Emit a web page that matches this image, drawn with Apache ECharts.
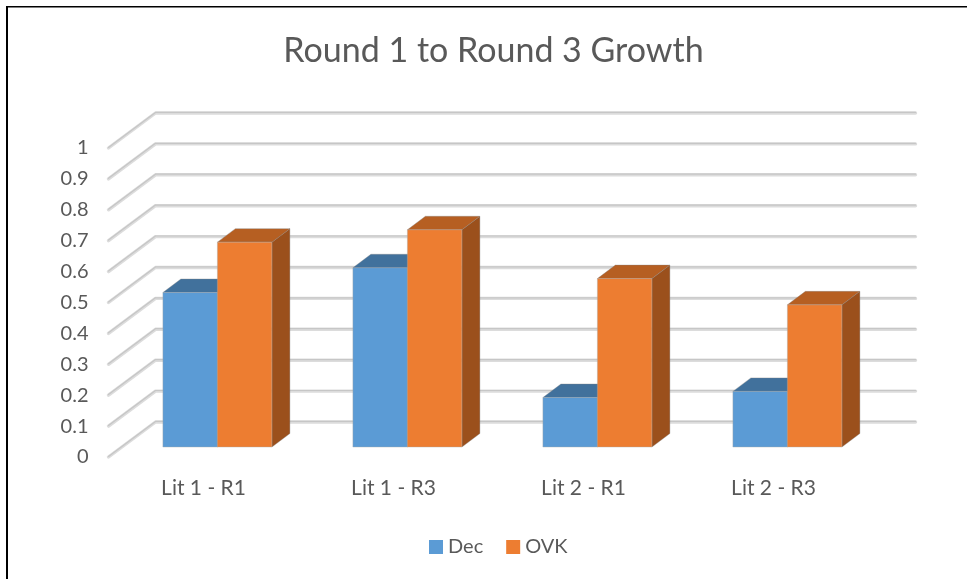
<!DOCTYPE html>
<html>
<head>
<meta charset="utf-8">
<style>html,body{margin:0;padding:0;background:#fff}#c{width:967px;height:579px}</style>
<script src="https://cdn.jsdelivr.net/npm/echarts@6/dist/echarts.min.js"></script>
</head>
<body>
<div id="c"></div>
<script>
const categories = ['Lit 1 - R1', 'Lit 1 - R3', 'Lit 2 - R1', 'Lit 2 - R3'];
const dec = [0.50, 0.58, 0.16, 0.18];
const ovk = [0.663, 0.703, 0.545, 0.46];
const yTicks = [0, 0.1, 0.2, 0.3, 0.4, 0.5, 0.6, 0.7, 0.8, 0.9, 1];

const DEPTH_X = 47, DEPTH_Y = 35;
const BAR_W = 54.5, BAR_DX = 18, BAR_DY = 13.5;
const FRONT_X = 13.9, FRONT_Y = 10;

function gridRender(params, api) {
  const v = api.value(0);
  const p = api.coord([0, v]);
  const band = api.size([1, 0])[0];
  const x0 = p[0] - band / 2;
  const pts = [[x0, p[1]], [x0 + DEPTH_X, p[1] - DEPTH_Y], [x0 + DEPTH_X + band * categories.length, p[1] - DEPTH_Y]];
  return {
    type: 'group',
    children: [
      { type: 'polyline', shape: { points: pts }, style: { fill: 'none', stroke: '#dcdcdc', lineWidth: 3.4, lineCap: 'round', lineJoin: 'round' } },
      { type: 'polyline', shape: { points: pts.map(q => [q[0], q[1] - 0.6]) }, style: { fill: 'none', stroke: '#c6c6c6', lineWidth: 1.2, lineCap: 'round', lineJoin: 'round' } }
    ]
  };
}

function barRender(slot, front, top, side) {
  return function (params, api) {
    const p = api.coord([api.value(0), api.value(1)]);
    const base = api.coord([api.value(0), 0]);
    const xL = p[0] + FRONT_X + slot * BAR_W;
    const xR = xL + BAR_W;
    const yT = p[1] - FRONT_Y;
    const yB = base[1] - FRONT_Y;
    const edge = { stroke: 'rgba(130,130,130,0.45)', lineWidth: 0.8 };
    return {
      type: 'group',
      children: [
        { type: 'polygon', shape: { points: [[xR, yB], [xR + BAR_DX, yB - BAR_DY], [xR + BAR_DX, yT - BAR_DY], [xR, yT]] }, style: Object.assign({ fill: side }, edge) },
        { type: 'polygon', shape: { points: [[xL, yT], [xL + BAR_DX, yT - BAR_DY], [xR + BAR_DX, yT - BAR_DY], [xR, yT]] }, style: Object.assign({ fill: top }, edge) },
        { type: 'rect', shape: { x: xL, y: yT, width: BAR_W, height: yB - yT }, style: { fill: front, stroke: 'rgba(170,170,170,0.5)', lineWidth: 0.8 } }
      ]
    };
  };
}

const chart = echarts.init(document.getElementById('c'), null, { renderer: 'canvas' });
chart.setOption({
  animation: false,
  backgroundColor: '#ffffff',
  textStyle: { fontFamily: 'Lato' },
  title: {
    text: 'Round 1 to Round 3 Growth',
    left: 488.5, top: 29, textAlign: 'center',
    textStyle: { fontFamily: 'Lato', fontSize: 34, fontWeight: 'normal', color: '#595959' }
  },
  legend: {
    left: 424, top: 532, itemWidth: 14, itemHeight: 14, itemGap: 23,
    icon: 'rect',
    textStyle: { fontFamily: 'Lato', fontSize: 20, color: '#595959' },
    data: ['Dec', 'OVK']
  },
  grid: { left: 108.5, top: 148, width: 760, height: 309 },
  xAxis: {
    type: 'category', data: categories,
    axisLine: { show: false }, axisTick: { show: false }, splitLine: { show: false },
    axisLabel: { margin: 21, fontFamily: 'Lato', fontSize: 21, color: '#595959' }
  },
  yAxis: {
    type: 'value', min: 0, max: 1, interval: 0.1,
    axisLine: { show: false }, axisTick: { show: false }, splitLine: { show: false },
    axisLabel: { margin: 20, fontFamily: 'Lato', fontSize: 20, color: '#595959' }
  },
  graphic: [
    { type: 'rect', shape: { x: 6, y: 6, width: 961, height: 1.5 }, style: { fill: '#000' } },
    { type: 'rect', shape: { x: 6, y: 6, width: 2, height: 573 }, style: { fill: '#000' } }
  ],
  series: [
    { type: 'custom', name: 'grid', z: 1, silent: true, renderItem: gridRender, data: yTicks.map(v => [v]), encode: { y: 0 }, legendHoverLink: false },
    { type: 'custom', name: 'Dec', z: 2, itemStyle: { color: '#5B9BD5' }, renderItem: barRender(-1, '#5B9BD5', '#41719C', '#35597c'), data: dec.map((v, i) => [i, v]), encode: { x: 0, y: 1 } },
    { type: 'custom', name: 'OVK', z: 3, itemStyle: { color: '#ED7D31' }, renderItem: barRender(0, '#ED7D31', '#B65F22', '#9B501C'), data: ovk.map((v, i) => [i, v]), encode: { x: 0, y: 1 } }
  ]
});
</script>
</body>
</html>
